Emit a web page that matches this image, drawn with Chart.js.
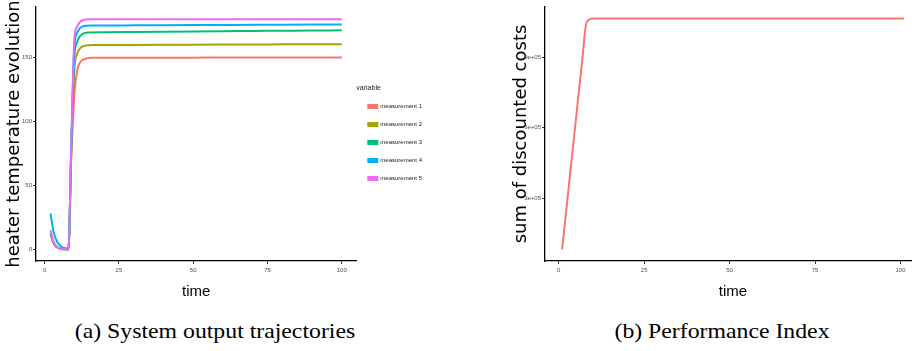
<!DOCTYPE html>
<html>
<head>
<meta charset="utf-8">
<script src="https://cdn.jsdelivr.net/npm/chart.js@4.4.0/dist/chart.umd.min.js"></script>
<style>
  body { margin: 0; width: 912px; height: 351px; overflow: hidden; background: #fff; position: relative; }
  canvas { position: absolute; top: 0; }
  #chartA { left: 0; }
  #chartB { left: 500px; }
  .caption { position: absolute; top: 318px; font-family: 'Liberation Serif', serif; font-size: 22px; color: #000; white-space: nowrap; transform: translateX(-50%) scaleX(1.08); }
</style>
</head>
<body>
<canvas id="chartA" width="432" height="301"></canvas>
<canvas id="chartB" width="421" height="301"></canvas>
<div class="caption" style="left:215px">(a) System output trajectories</div>
<div class="caption" style="left:722px">(b) Performance Index</div>
<script>
// (a) heater temperature per measurement
const timeA = [2, 3, 4, 5, 6, 7, 8, 9, 10, 11, 12, 13, 14, 15, 16, 20, 30, 40, 50, 60, 70, 80, 90, 100];
const measurement1 = [12, 5, 2, 0.8, 0.3, 0.1, 0, 72, 120, 140, 146, 148, 148.8, 149.2, 149.4, 149.4, 149.4, 149.5, 149.5, 149.6, 149.6, 149.6, 149.7, 149.7];
const measurement2 = [12, 5, 2, 0.8, 0.3, 0.1, 0, 80, 140, 153, 157, 158.5, 159, 159.2, 159.3, 159.3, 159.4, 159.5, 159.6, 159.7, 159.8, 159.9, 160, 160];
const measurement3 = [13, 5.5, 2.2, 0.9, 0.3, 0.1, 0, 82, 150, 162, 166.5, 168.3, 168.9, 169.1, 169.2, 169.3, 169.5, 169.7, 169.9, 170.1, 170.3, 170.5, 170.7, 170.8];
const measurement4 = [28, 14, 7, 3.5, 1.7, 1, 0.5, 84, 158, 169, 172.8, 174, 174.4, 174.5, 174.6, 174.6, 174.7, 174.8, 174.9, 175, 175.1, 175.2, 175.3, 175.4];
const measurement5 = [15, 6, 2.5, 1, 0.5, 0.2, 0, 84, 164, 174, 177.5, 178.8, 179.3, 179.5, 179.5, 179.5, 179.5, 179.5, 179.5, 179.5, 179.5, 179.5, 179.5, 179.5];
const seriesNames = ['measurement 1', 'measurement 2', 'measurement 3', 'measurement 4', 'measurement 5'];
const seriesColors = ['#F8766D', '#A3A500', '#00BF7D', '#00B0F6', '#E76BF3'];
const xTicksA = [0, 25, 50, 75, 100];
const yTicksA = [0, 50, 100, 150];

// (b) sum of discounted costs
const timeB = [1, 2, 3, 4, 5, 6, 7, 8, 9, 10, 20, 30, 40, 50, 60, 70, 80, 90, 100, 101];
const costs = [82000, 219000, 356000, 493000, 630000, 767000, 903000, 1040000, 1061000, 1065000, 1065000, 1065000, 1065000, 1065000, 1065000, 1065000, 1065000, 1065000, 1065000, 1065000];
const xTicksB = [0, 25, 50, 75, 100];
const yTicksB = [300000, 600000, 900000];
const yLabelsB = ['3e+05', '6e+05', '9e+05'];

const tickFont = { family: 'Liberation Sans', size: 6 };
const titleFont = { family: 'DejaVu Sans', size: 18 };
const timeFont = { family: 'Liberation Sans', size: 15 };

function axis(min, max, ticks, labels, extra) {
  return Object.assign({
    type: 'linear',
    min: min,
    max: max,
    afterBuildTicks: s => { s.ticks = ticks.map(v => ({ value: v })); },
    ticks: {
      font: tickFont,
      color: '#4d4d4d',
      padding: 1,
      maxRotation: 0,
      autoSkip: false,
      callback: (v) => labels ? labels[ticks.indexOf(v)] : String(v)
    },
    grid: { drawOnChartArea: false, drawTicks: true, tickLength: 3, color: '#333' },
    border: { display: true, color: '#000', width: 1.3 }
  }, extra);
}

const xTickOpts = { font: tickFont, color: '#4d4d4d', padding: 3, maxRotation: 0, autoSkip: false };
const allSeries = [measurement1, measurement2, measurement3, measurement4, measurement5];

new Chart(document.getElementById('chartA'), {
  type: 'line',
  data: {
    datasets: allSeries.map((vals, i) => ({
      label: seriesNames[i],
      data: timeA.map((t, j) => ({ x: t, y: vals[j] })),
      borderColor: seriesColors[i],
      backgroundColor: seriesColors[i],
      borderWidth: 2,
      pointRadius: 0,
      cubicInterpolationMode: 'monotone',
      order: allSeries.length - i
    }))
  },
  options: {
    responsive: false,
    animation: false,
    layout: { padding: { top: 7, right: 0, left: 0, bottom: 0 } },
    plugins: {
      tooltip: { enabled: false },
      legend: {
        position: 'right',
        align: 'start',
        title: { display: true, text: 'variable', position: 'start', color: '#222', font: { family: 'Liberation Sans', size: 7 }, padding: { top: 78, bottom: -2 } },
        labels: {
          boxWidth: 9,
          boxHeight: 3,
          padding: 12,
          color: '#222',
          font: { family: 'Liberation Sans', size: 6 },
          sort: (a, b) => a.datasetIndex - b.datasetIndex
        }
      }
    },
    scales: {
      x: axis(-2.9, 104.9, xTicksA, null, {
        ticks: xTickOpts,
        afterFit: s => { s.height = 40; },
        title: { display: true, text: 'time', color: '#000', font: timeFont, padding: { top: 9, bottom: 0 } }
      }),
      y: axis(-9, 189, yTicksA, null, {
        afterFit: s => { s.width = 36; },
        title: { display: true, text: 'heater temperature evolution', color: '#000', font: titleFont, padding: { top: 4, bottom: 0 } }
      })
    }
  }
});

new Chart(document.getElementById('chartB'), {
  type: 'line',
  data: {
    datasets: [{
      label: 'cost',
      data: timeB.map((t, j) => ({ x: t, y: costs[j] })),
      borderColor: '#F8766D',
      borderWidth: 2,
      pointRadius: 0,
      cubicInterpolationMode: 'monotone'
    }]
  },
  options: {
    responsive: false,
    animation: false,
    layout: { padding: { top: 7, right: 0, left: 0, bottom: 0 } },
    plugins: { legend: { display: false }, tooltip: { enabled: false } },
    scales: {
      x: axis(-4, 106, xTicksB, null, {
        ticks: xTickOpts,
        afterFit: s => { s.height = 40; },
        title: { display: true, text: 'time', color: '#000', font: timeFont, padding: { top: 9, bottom: 0 } }
      }),
      y: axis(33000, 1114000, yTicksB, yLabelsB, {
        afterFit: s => { s.width = 45; },
        title: { display: true, text: 'sum of discounted costs', color: '#000', font: titleFont, padding: { top: 11, bottom: 0 } }
      })
    }
  }
});
</script>
</body>
</html>
